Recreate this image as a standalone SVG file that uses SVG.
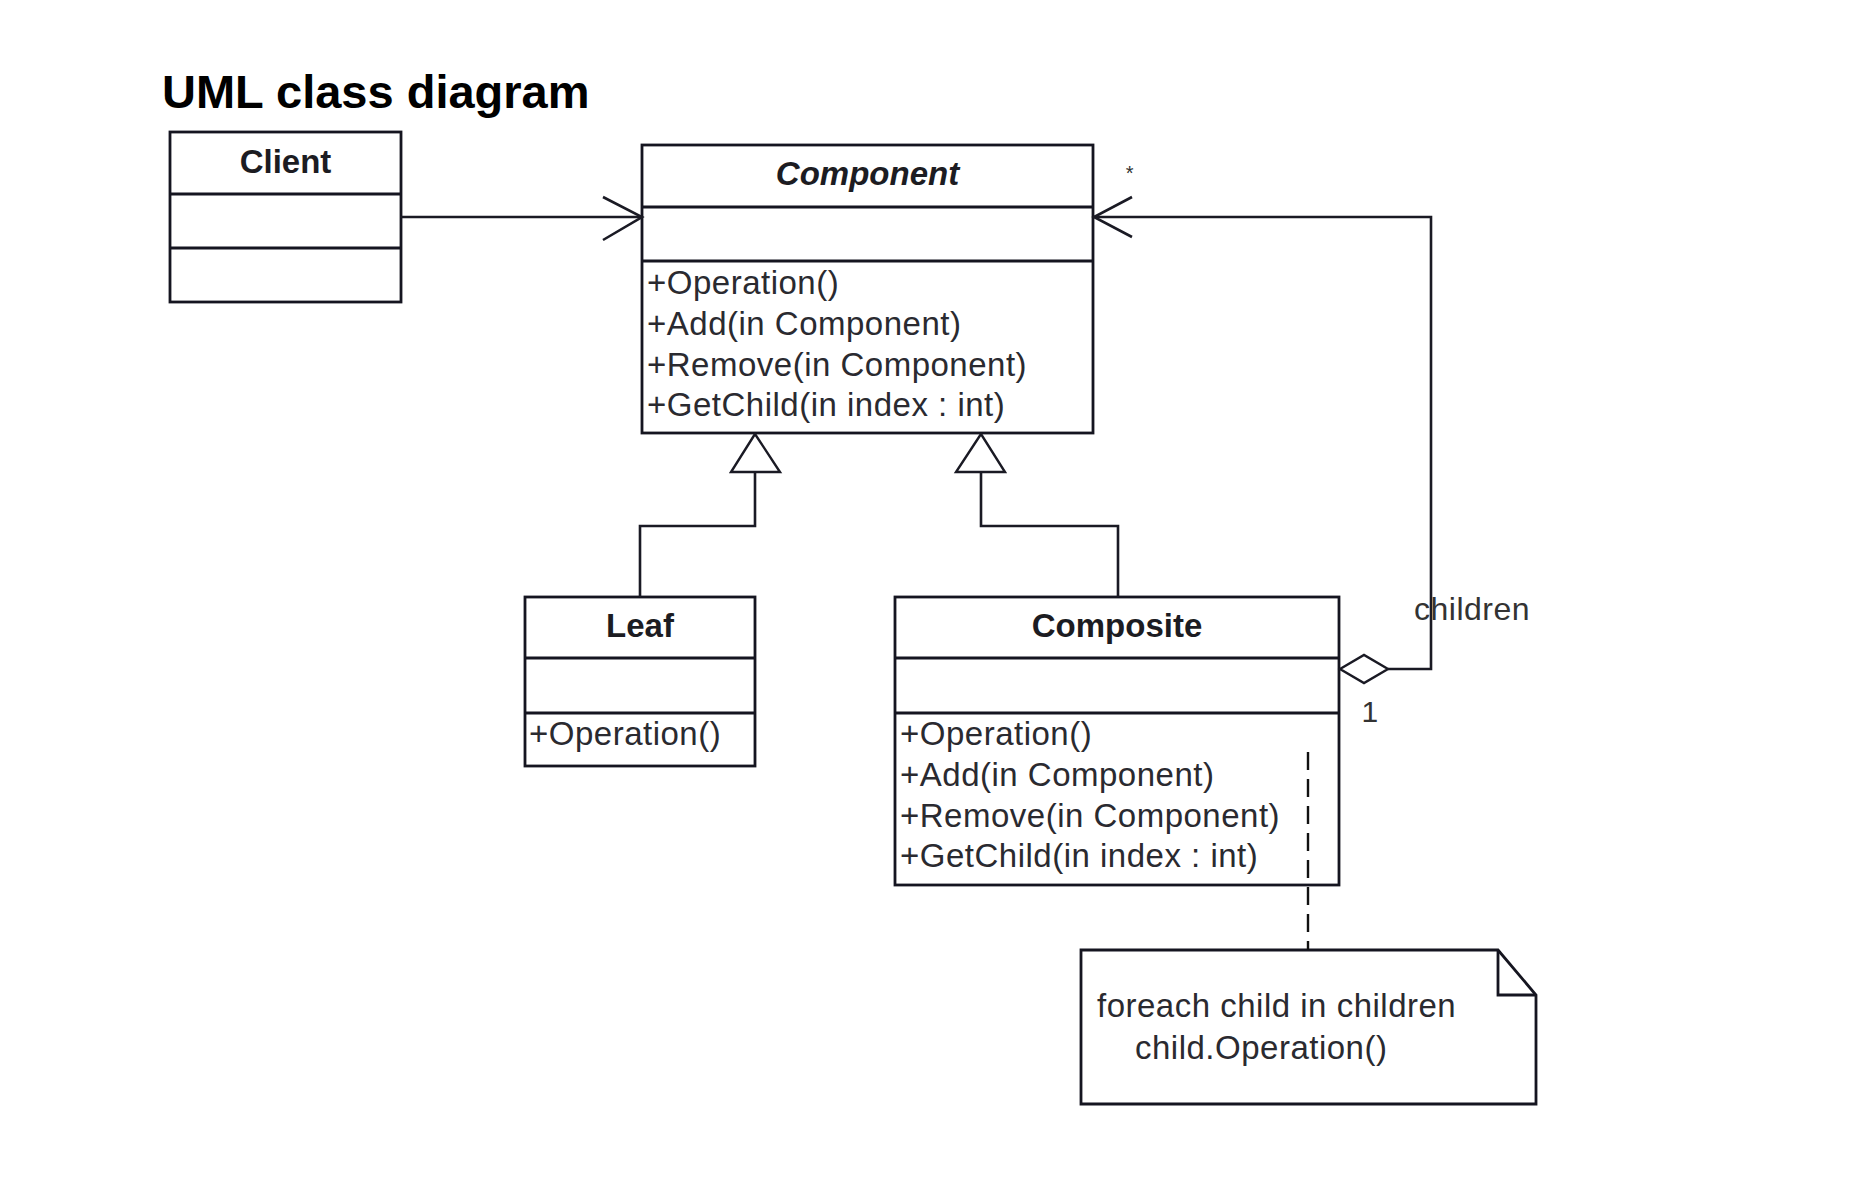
<svg xmlns="http://www.w3.org/2000/svg" width="1866" height="1198" viewBox="0 0 1866 1198">
<style>
  .box{fill:#fff;stroke:#151520;stroke-width:2.8}
  .div{stroke:#151520;stroke-width:2.8;fill:none}
  .con{stroke:#1a1a24;stroke-width:2.6;fill:none}
  .head{stroke:#1a1a24;stroke-width:2.4;fill:#fff}
  .dash{stroke:#111;stroke-width:2.4;stroke-dasharray:18 9;fill:none}
  .title{font-family:"Liberation Sans",Arial,sans-serif;font-weight:bold;font-size:47px;fill:#000}
  .name{font-family:"Liberation Sans",Arial,sans-serif;font-weight:bold;font-size:33px;fill:#1c1c22;text-anchor:middle}
  .abs{font-style:italic}
  .op{font-family:"Liberation Sans",Arial,sans-serif;font-size:33px;fill:#2a2a30;letter-spacing:0.5px}
  .lbl{font-family:"Liberation Sans",Arial,sans-serif;font-size:32px;fill:#333;letter-spacing:0.5px}
</style>
<rect width="1866" height="1198" fill="#fff"/>
<text class="title" x="162" y="108">UML class diagram</text>

<g id="client">
  <rect class="box" x="170" y="132" width="231" height="170"/>
  <line class="div" x1="170" y1="194" x2="401" y2="194"/>
  <line class="div" x1="170" y1="248" x2="401" y2="248"/>
  <text class="name" x="285.5" y="173">Client</text>
</g>

<g id="component">
  <rect class="box" x="642" y="145" width="451" height="288"/>
  <line class="div" x1="642" y1="207" x2="1093" y2="207"/>
  <line class="div" x1="642" y1="261" x2="1093" y2="261"/>
  <text class="name abs" x="867.5" y="185">Component</text>
  <text class="op" x="647" y="294">+Operation()</text>
  <text class="op" x="647" y="334.5">+Add(in Component)</text>
  <text class="op" x="647" y="375.5">+Remove(in Component)</text>
  <text class="op" x="647" y="416">+GetChild(in index : int)</text>
</g>

<g id="leaf">
  <rect class="box" x="525" y="597" width="230" height="169"/>
  <line class="div" x1="525" y1="658" x2="755" y2="658"/>
  <line class="div" x1="525" y1="713" x2="755" y2="713"/>
  <text class="name" x="640" y="637">Leaf</text>
  <text class="op" x="529" y="745">+Operation()</text>
</g>

<g id="composite">
  <rect class="box" x="895" y="597" width="444" height="288"/>
  <line class="div" x1="895" y1="658" x2="1339" y2="658"/>
  <line class="div" x1="895" y1="713" x2="1339" y2="713"/>
  <text class="name" x="1117" y="637">Composite</text>
  <text class="op" x="900" y="745">+Operation()</text>
  <text class="op" x="900" y="786">+Add(in Component)</text>
  <text class="op" x="900" y="826.5">+Remove(in Component)</text>
  <text class="op" x="900" y="867">+GetChild(in index : int)</text>
</g>

<g id="note">
  <path class="box" d="M1081,950 L1498,950 L1536,995 L1536,1104 L1081,1104 Z"/>
  <polyline class="div" points="1498,950 1498,995 1536,995"/>
  <text class="op" x="1097" y="1017">foreach child in children</text>
  <text class="op" x="1135" y="1059">child.Operation()</text>
</g>

<g id="connectors">
  <line class="con" x1="400" y1="217" x2="642" y2="217"/>
  <polyline class="con" points="603,197 642,217 603,240"/>
  <polyline class="con" points="640,597 640,526 755,526 755,472"/>
  <polygon class="head" points="755,434 731,472 780,472"/>
  <polyline class="con" points="1118,597 1118,526 981,526 981,472"/>
  <polygon class="head" points="981,434 956,472 1005,472"/>
  <polyline class="con" points="1388,669 1431,669 1431,217 1094,217"/>
  <polyline class="con" points="1132,197 1094,217 1132,237"/>
  <polygon class="head" points="1340,669 1364,655 1388,669 1364,683"/>
  <text class="lbl" x="1130" y="180" text-anchor="middle" style="font-size:20px">*</text>
  <text class="lbl" x="1414" y="620">children</text>
  <text class="lbl" x="1370" y="722" text-anchor="middle" style="font-size:30px">1</text>
  <line class="dash" x1="1308" y1="752" x2="1308" y2="950"/>
</g>
</svg>
